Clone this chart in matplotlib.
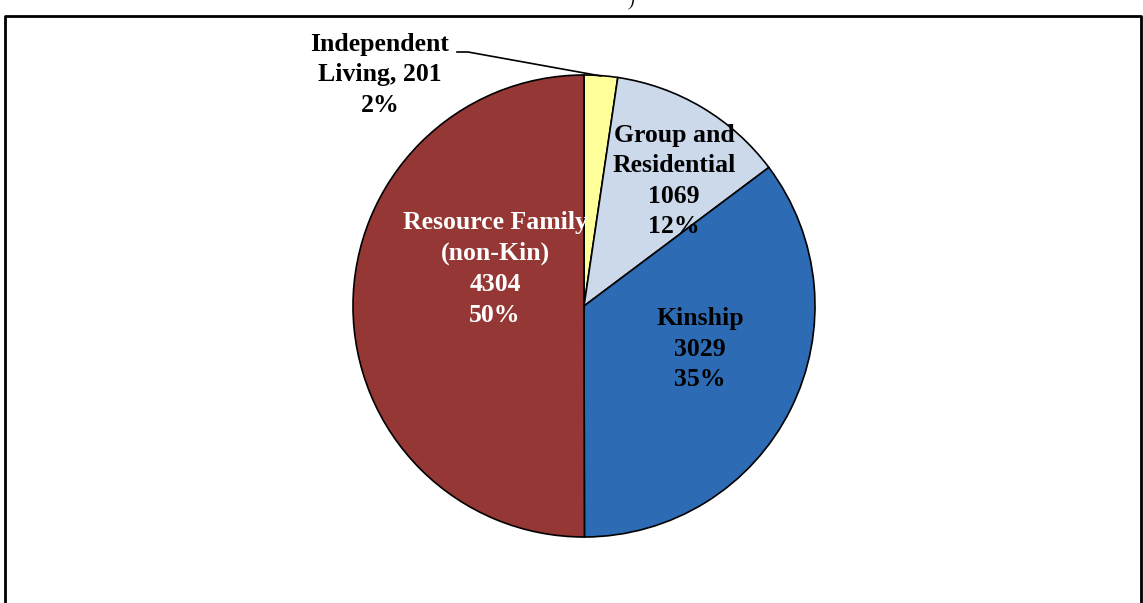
import matplotlib.pyplot as plt

# Placement counts
labels = ['Independent\nLiving, 201\n2%', 'Group and\nResidential\n1069\n12%',
          'Kinship\n3029\n35%', 'Resource Family\n(non-Kin)\n4304\n50%']
counts = [201, 1069, 3029, 4304]
colors = ['#FFFF99', '#CCD9EB', '#2E6BB5', '#953735']

W, H = 1143, 603
fig = plt.figure(figsize=(W / 100, H / 100), dpi=100)
ax = fig.add_axes([0, 0, 1, 1])

cx, cy, r = 584, H - 306, 231
ax.pie(counts, colors=colors, startangle=90, counterclock=False,
       center=(cx, cy), radius=r, frame=True,
       wedgeprops=dict(edgecolor='black', linewidth=1.2))
ax.set_xlim(0, W)
ax.set_ylim(0, H)
ax.set_aspect('equal')
ax.axis('off')

font = dict(family='Liberation Serif', fontweight='bold', fontsize=18.5,
            ha='center', va='center', linespacing=1.42)

ax.text(380, H - 75, labels[0], color='black', **font)
ax.text(674, H - 181, labels[1], color='black', **font)
ax.text(700, H - 349, labels[2], color='black', **font)
ax.text(495, H - 269, labels[3], color='white', **font)

# leader line for the small slice
ax.plot([457, 468, 601], [H - 52, H - 52, H - 76], color='black', lw=1.2)

# outer frame
ax.plot([5, 5, 1141, 1141], [-5, H - 16, H - 16, -5], color='black', lw=2,
        clip_on=False)
ax.text(632, H - 2, ')', family='Liberation Serif', fontsize=12,
        style='italic', ha='center', va='center')

fig.savefig('out.png', dpi=100)
